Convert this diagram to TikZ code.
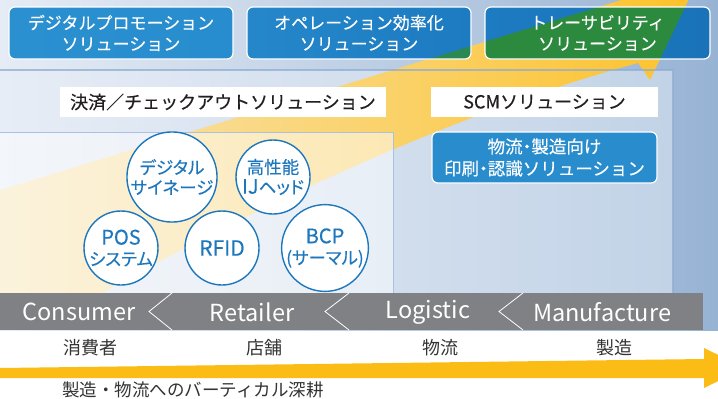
\documentclass[tikz,border=0pt]{standalone}
\usepackage{fontspec}
\setmainfont{Noto Sans CJK JP}
\newfontfamily\jpp{Noto Sans CJK JP}[RawFeature=+palt, FakeBold=0.2]
\newfontfamily\jpb{Noto Sans CJK JP}[FakeBold=0.35]
\newfontfamily\jpm{Noto Sans CJK JP}[FakeBold=0.2]
\definecolor{bandL}{HTML}{E6ECF5}
\definecolor{bandR}{HTML}{97B3D4}
\definecolor{panL}{HTML}{E7EDF6}
\definecolor{panR}{HTML}{C2D3E7}
\definecolor{panline}{HTML}{8EADD2}
\definecolor{innerline}{HTML}{A9C2DF}
\definecolor{arL}{HTML}{F7E6BA}
\definecolor{arM}{HTML}{FCDC94}
\definecolor{arR}{HTML}{FDC22A}
\definecolor{boxA}{HTML}{2A90D0}
\definecolor{boxB}{HTML}{1D7BC1}
\definecolor{boxC}{HTML}{1A73B9}
\definecolor{grn}{HTML}{2C8A3E}
\definecolor{teal}{HTML}{2E8F80}
\definecolor{circblue}{HTML}{1C77BD}
\definecolor{barg}{HTML}{808184}
\definecolor{txt}{HTML}{231F20}
\definecolor{lbl}{HTML}{333333}
\definecolor{arrowy}{HTML}{FBBD15}
\begin{document}
\begin{tikzpicture}[x=1pt,y=-1pt,
  topbox/.style={rounded corners=6pt, draw=white, line width=1.2pt, minimum width=224pt, minimum height=52pt, inner sep=0pt, align=center, text=white, font=\jpm\fontsize{17}{21}\selectfont},
  whitelabel/.style={fill=white, inner sep=0pt, minimum height=30pt, text=txt, font=\jpb\fontsize{18}{20}\selectfont},
  circ/.style={circle, draw=circblue, line width=1.4pt, fill=white, minimum size=74pt, inner sep=0pt, text=circblue, align=center, font=\jpp\fontsize{17.5}{20}\selectfont},
  barlabel/.style={text=white, font=\fontsize{23.5}{24}\selectfont, inner sep=0pt},
  jplabel/.style={text=lbl, font=\fontsize{18}{20}\selectfont, inner sep=0pt},
  chev/.style={draw=white, line width=0.8pt}
]
\useasboundingbox (0,0) rectangle (718,399);
\fill[white] (0,0) rectangle (718,399);
% background band and panel
\shade[left color=bandL, right color=bandR] (0,0) rectangle (718,330);
\shade[left color=panL, right color=panR] (0,70) rectangle (673,293);
% big rising arrow
\begin{scope}
  \clip (0,0) rectangle (718,293);
  \shade[left color=arL, middle color=arM, right color=arR]
    (0,190) -- (700,-24) -- (650,80) -- (638,63) .. controls (500,100) and (300,180) .. (90,300) -- (0,355) -- cycle;
\end{scope}
\draw[panline, line width=1.2pt, opacity=0.75] (0,70) -- (673,70) -- (673,293);
% inner panel
\fill[white, fill opacity=0.5] (0,132) rectangle (393,293);
\draw[innerline, line width=1pt] (0,132) -- (393,132) -- (393,293);
% top box fills
\shade[rounded corners=6pt, left color=boxA, right color=boxA!85!boxB] (9,7) rectangle (233,59);
\shade[rounded corners=6pt, left color=boxA!60!boxB, right color=boxB] (247,7) rectangle (471,59);
\shade[rounded corners=6pt, left color=boxB, right color=boxC] (485,7) rectangle (710,59);
\begin{scope}
  \clip[rounded corners=6pt] (247,7) rectangle (471,59);
  \fill[grn!85!boxB] (0,190) -- (700,-24) -- (650,80) -- (638,63) .. controls (500,100) and (300,180) .. (90,300) -- (0,355) -- cycle;
\end{scope}
\begin{scope}
  \clip[rounded corners=6pt] (485,7) rectangle (710,59);
  \fill[grn] (0,190) -- (700,-24) -- (650,80) -- (638,63) .. controls (500,100) and (300,180) .. (90,300) -- (0,355) -- cycle;
\end{scope}
\node[topbox] (promo) at (121,33) {デジタルプロモーション\\ソリューション};
\node[topbox] (oper) at (359,33) {オペレーション効率化\\ソリューション};
\node[topbox, minimum width=225pt] (trace) at (597.5,33) {トレーサビリティ\\ソリューション};
% white labels
\node[whitelabel, minimum width=326pt] (checkout) at (223,102) {決済／チェックアウトソリューション};
\node[whitelabel, minimum width=227pt] (scm) at (544.5,102) {SCMソリューション};
% logistics box
\fill[rounded corners=6pt, boxA!80!boxB] (432,132) rectangle (657,183);
\begin{scope}
  \clip[rounded corners=6pt] (432,132) rectangle (657,183);
  \fill[teal] (0,190) -- (700,-24) -- (650,80) -- (638,63) .. controls (500,100) and (300,180) .. (90,300) -- (0,355) -- cycle;
\end{scope}
\node[rounded corners=6pt, draw=white, line width=1.2pt, minimum width=225pt, minimum height=51pt, inner sep=0pt, align=center, text=white, font=\jpm\fontsize{17.5}{22}\selectfont] (print) at (544.5,157.5) {物流{\jpp ・}製造向け\\印刷{\jpp ・}認識ソリューション};
% circles
\node[circ] (signage) at (172,177) {デジタル\\サイネージ};
\node[circ] (ijhead) at (273,177) {高性能\\{\fontsize{20}{20}\selectfont IJ}ヘッド};
\node[circ] (pos) at (121,248) {{\fontsize{20}{20}\selectfont POS}\\[1pt]システム};
\node[circ, font=\jpp\fontsize{21}{21}\selectfont] (rfid) at (222,248) {RFID};
\node[circ] (bcp) at (325,248) {{\fontsize{20}{20}\selectfont BCP}\\[1pt](サーマル)};
% chevron bar
\fill[barg] (0,293) rectangle (703,330);
\coordinate (c1t) at (172,293); \coordinate (c1m) at (149,311.5); \coordinate (c1b) at (172,330);
\coordinate (c2t) at (349,293); \coordinate (c2m) at (325,311.5); \coordinate (c2b) at (349,330);
\coordinate (c3t) at (523,293); \coordinate (c3m) at (499,311.5); \coordinate (c3b) at (523,330);
\draw[chev] (c1t) -- (c1m) -- (c1b);
\draw[chev] (c2t) -- (c2m) -- (c2b);
\draw[chev] (c3t) -- (c3m) -- (c3b);
\node[barlabel] (consumer) at (79,312) {Consumer};
\node[barlabel] (retailer) at (252,312) {Retailer};
\node[barlabel] (logistic) at (428,312) {Logistic};
\node[barlabel] (manuf) at (602,312) {Manufacture};
\node[jplabel] (j1) at (90,348) {消費者};
\node[jplabel] (j2) at (264,348) {店舗};
\node[jplabel] (j3) at (440,348) {物流};
\node[jplabel] (j4) at (614,348) {製造};
% bottom arrow
\fill[arrowy] (0,368) -- (704,359) -- (704,348) -- (745,368) -- (704,388) -- (704,378) -- (0,378) -- cycle;
\node[jplabel, anchor=west, font=\fontsize{17.5}{20}\selectfont] (vert) at (62,390) {製造・物流へのバーティカル深耕};
\end{tikzpicture}
\end{document}
